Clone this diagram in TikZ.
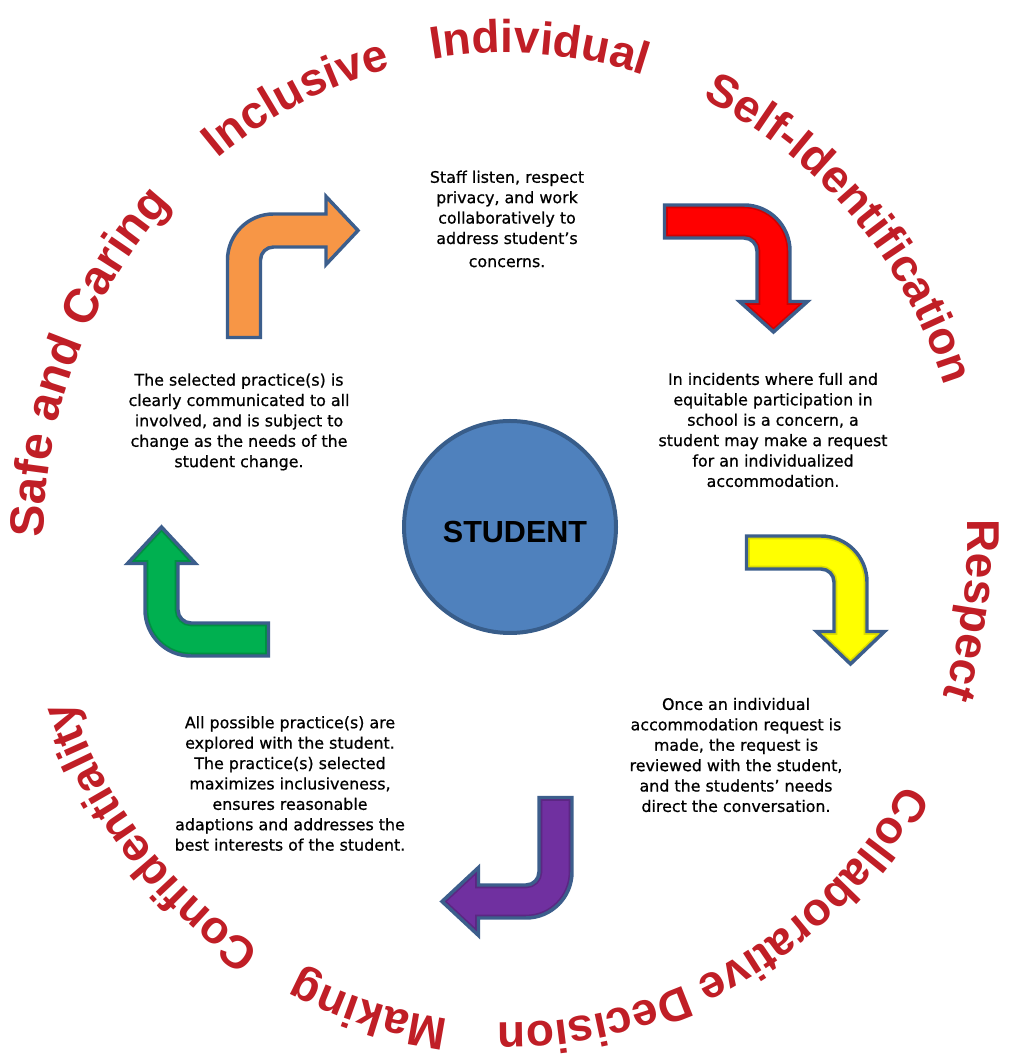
\documentclass[tikz,border=0pt]{standalone}
\usepackage{fontspec}
\setmainfont{Liberation Sans}
\newfontfamily\bodyfam{DejaVu Sans}[FakeBold=0.7]
\newfontfamily\curvefam{Liberation Sans}
\usetikzlibrary{decorations.text}
\definecolor{wordred}{RGB}{192,30,38}
\definecolor{outlineblue}{RGB}{60,94,140}
\definecolor{circfill}{RGB}{79,129,189}
\definecolor{circdraw}{RGB}{56,93,138}
\definecolor{arrorange}{RGB}{247,150,70}
\definecolor{arrred}{RGB}{255,0,0}
\definecolor{arryellow}{RGB}{255,255,0}
\definecolor{arrpurple}{RGB}{112,48,160}
\definecolor{arrgreen}{RGB}{0,176,80}
\newcommand\bodyfont{\bodyfam\fontsize{11.9}{15.3}\selectfont}
\newcommand\curvefont[1]{\curvefam\bfseries\fontsize{#1}{40}\selectfont}
\newcommand\studentfont{\bfseries\fontsize{22.9}{26}\selectfont}
\def\hw{16.5}\def\ha{34}\def\Ro{46}\def\Ri{13}
\newcommand\arrowpath[3]{(-\hw,0) -- (-\hw,#1+\hw-\Ro) arc[start angle=180,end angle=90,radius=\Ro] -- (#3,#1+\hw) -- (#3,#1+\ha) -- (#2,#1) -- (#3,#1-\ha) -- (#3,#1-\hw) -- (-\hw+\Ro,#1-\hw) arc[start angle=90,end angle=180,radius=\Ri] -- (\hw,0) -- cycle}
\newcommand\bentarrow[8]{%
  \begin{scope}[shift={(#2,#3)}, rotate=#4]
    \fill[#1] \arrowpath{#5}{#6}{#7};
    \begin{scope}
      \clip \arrowpath{#5}{#6}{#7};
      \draw[#8, line width=5pt, opacity=0.45] \arrowpath{#5}{#6}{#7};
    \end{scope}
    \draw[arrowline] \arrowpath{#5}{#6}{#7};
  \end{scope}}
\newcommand\curveword[3]{%
  \pgfmathsetmacro\sa{#1+45}\pgfmathsetmacro\ea{#1-45}%
  \path[decorate, decoration={text along path, text align=center, text color=wordred, text={|\curvefont{#3}|#2}}]
    (506,524) ++(\sa:462 and 485) arc[start angle=\sa, end angle=\ea, x radius=462, y radius=485];
}
\begin{document}
\begin{tikzpicture}[x=0.75pt, y=0.75pt,
  bodytext/.style={font=\bodyfont, align=center, text=black, inner sep=0pt},
  arrowline/.style={draw=outlineblue, line width=2.6pt, line join=miter},
  studentcircle/.style={circle, fill=circfill, draw=circdraw, line width=3pt, minimum size=159pt, inner sep=0pt}]
\fill[white] (0,0) rectangle (1008,1062);
\useasboundingbox (0,0) rectangle (1008,1062);

% curved words
\curveword{116}{Inclusive}{34.5}
\curveword{86}{Individual}{34.5}
\curveword{42}{Self-Identification}{34.5}
\curveword{-8.6}{Respect}{34.5}
\curveword{-61}{Collaborative Decision}{34.5}
\curveword{-106.5}{Making}{34.5}
\curveword{-140.7}{Confidentiality}{34.5}
\curveword{157.8}{Safe and Caring}{36}

% arrows
\bentarrow{arrorange}{244}{724.5}{0}{107}{114}{82}{arrorange}
\bentarrow{arrred}{664.5}{840.5}{-90}{109}{110.5}{80}{arrred!60!black}
\bentarrow{arryellow}{746.5}{509.5}{-90}{104}{111.5}{79}{arryellow!70!black}
\bentarrow{arrpurple}{555.5}{264.5}{180}{104}{113.5}{77}{arrpurple!60!black}
\bentarrow{arrgreen}{268.5}{422.5}{90}{107}{112.5}{76}{arrgreen!60!black}

% centre
\node[studentcircle] (student) at (510,535) {};
\node[font=\studentfont, inner sep=0pt] (studentlabel) at (515,530.5) {STUDENT};

% text blocks
\node[bodytext] (step1) at (507,843) {Staff listen, respect\\privacy, and work\\collaboratively to\\address student’s\\[2pt]concerns.};
\node[bodytext] (step2) at (773,632) {In incidents where full and\\equitable participation in\\school is a concern, a\\student may make a request\\for an individualized\\accommodation.};
\node[bodytext] (step3) at (736,307) {Once an individual\\accommodation request is\\made, the request is\\reviewed with the student,\\and the students’ needs\\direct the conversation.};
\node[bodytext] (step4) at (290,278.5) {All possible practice(s) are\\explored with the student.\\The practice(s) selected\\maximizes inclusiveness,\\ensures reasonable\\adaptions and addresses the\\best interests of the student.};
\node[bodytext] (step5) at (239,640) {The selected practice(s) is\\clearly communicated to all\\involved, and is subject to\\change as the needs of the\\student change.};
\end{tikzpicture}
\end{document}
